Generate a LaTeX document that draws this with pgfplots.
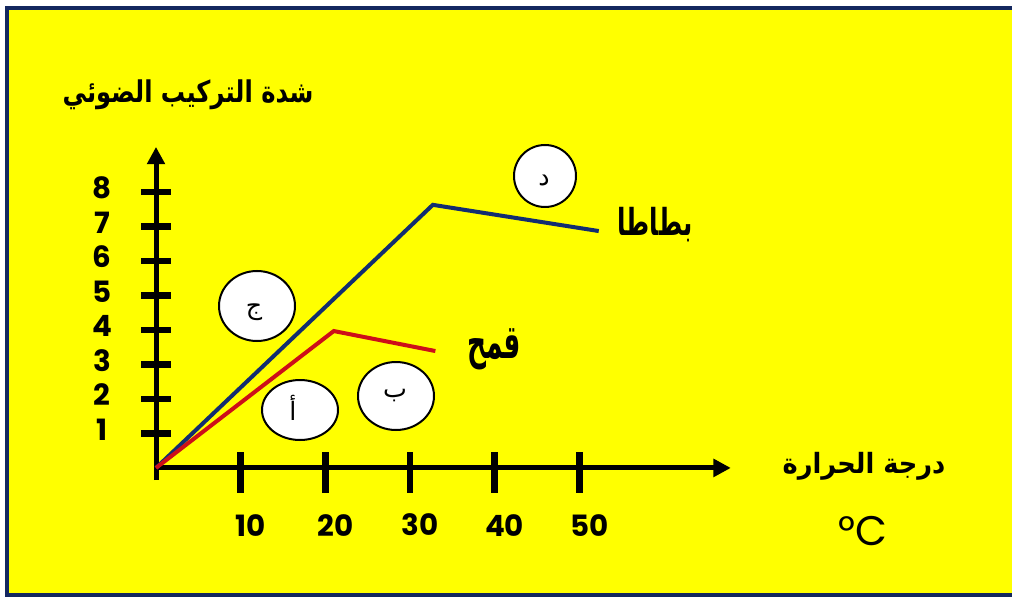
\documentclass[border=0pt]{standalone}
\usepackage{pgfplots}
\pgfplotsset{compat=1.18}
\usepackage{graphicx}
\usepackage{fontspec}
\usetikzlibrary{arrows.meta}
\setmainfont{Poppins}
\newfontfamily\arabicfont[Script=Arabic]{DejaVu Sans}
\TeXXeTstate=1
\definecolor{bg}{RGB}{255,255,0}
\definecolor{frame}{RGB}{20,40,95}
\definecolor{navy}{RGB}{18,45,112}
\definecolor{redl}{RGB}{205,15,25}
\begin{document}
\begin{tikzpicture}
\useasboundingbox (0pt,0pt) rectangle (759pt,-448.5pt);
\begin{scope}[x=0.75pt,y=-0.75pt]
\clip (0,0) rectangle (1012,598);
\fill[white] (0,0) rectangle (1012,598);
\fill[bg] (7,8) rectangle (1020,595);
\draw[line width=3pt, frame] (1020,8) -- (7,8) -- (7,595) -- (1020,595);
\end{scope}

\begin{axis}[
  at={(117pt,-360pt)}, anchor=south west,
  x=6.349pt, y=25.86pt,
  xmin=0, xmax=67.9, ymin=-0.35, ymax=9.31,
  axis lines=middle,
  axis line style={line width=3.75pt, black},
  every inner x axis line/.append style={-{Triangle[length=13pt,width=13pt]}},
  every inner y axis line/.append style={-{Triangle[length=13pt,width=13pt]}},
  clip=false,
  tick align=center,
  major tick length=30.75pt,
  xtick={10,20,30,40,50},
  xticklabels={10,20,30,40,50},
  xtick style={line width=5pt, black, yshift=-3.4pt},
  xticklabel style={font=\fontsize{22}{22}\selectfont\bfseries, anchor=center, yshift=-27.5pt, xshift=7.5pt},
  ytick=\empty,
  extra y ticks={1,2,3,4,5,6,7,8},
  extra y tick labels={1,2,3,4,5,6,7,8},
  extra y tick style={major tick length=22.5pt, tick align=center,
     ytick style={line width=5pt, black},
     yticklabel style={font=\fontsize{22}{22}\selectfont\bfseries, anchor=center, xshift=-29pt, yshift=3pt}},
]
\addplot[navy, line width=3pt] coordinates {(0,0) (32.7,7.63) (52.3,6.87)};
\addplot[redl, line width=3pt] coordinates {(0,0) (21,3.97) (33,3.39)};
\end{axis}

\begin{scope}[x=0.75pt,y=-0.75pt]
\draw[line width=1.5pt, fill=white] (257,306) ellipse [x radius=38, y radius=35];
\draw[line width=1.5pt, fill=white] (300,410) ellipse [x radius=38, y radius=30];
\draw[line width=1.5pt, fill=white] (396,396) ellipse [x radius=38, y radius=34];
\draw[line width=1.5pt, fill=white] (545,176) ellipse [x radius=31, y radius=31];
\node[font=\arabicfont\fontsize{19}{19}\selectfont] at (254,312) {\beginR ج\endR};
\node[font=\arabicfont\fontsize{19}{19}\selectfont] at (293,408) {\beginR أ\endR};
\node[font=\arabicfont\fontsize{19}{19}\selectfont] at (395,396) {\beginR ب\endR};
\node[font=\arabicfont\fontsize{19}{19}\selectfont] at (544,180) {\beginR د\endR};
\node at (188,95) {\resizebox*{188pt}{22.5pt}{\arabicfont\bfseries\beginR شدة التركيب الضوئي\endR}};
\node at (655,225) {\resizebox*{56pt}{26pt}{\arabicfont\bfseries\beginR بطاطا\endR}};
\node at (494,349) {\resizebox*{40.5pt}{31pt}{\arabicfont\bfseries\beginR قمح\endR}};
\node at (864,466) {\resizebox*{122pt}{21pt}{\arabicfont\bfseries\beginR درجة الحرارة\endR}};
\node[font=\fontsize{31}{31}\selectfont] at (863,531) {°C};
\end{scope}
\end{tikzpicture}
\end{document}
